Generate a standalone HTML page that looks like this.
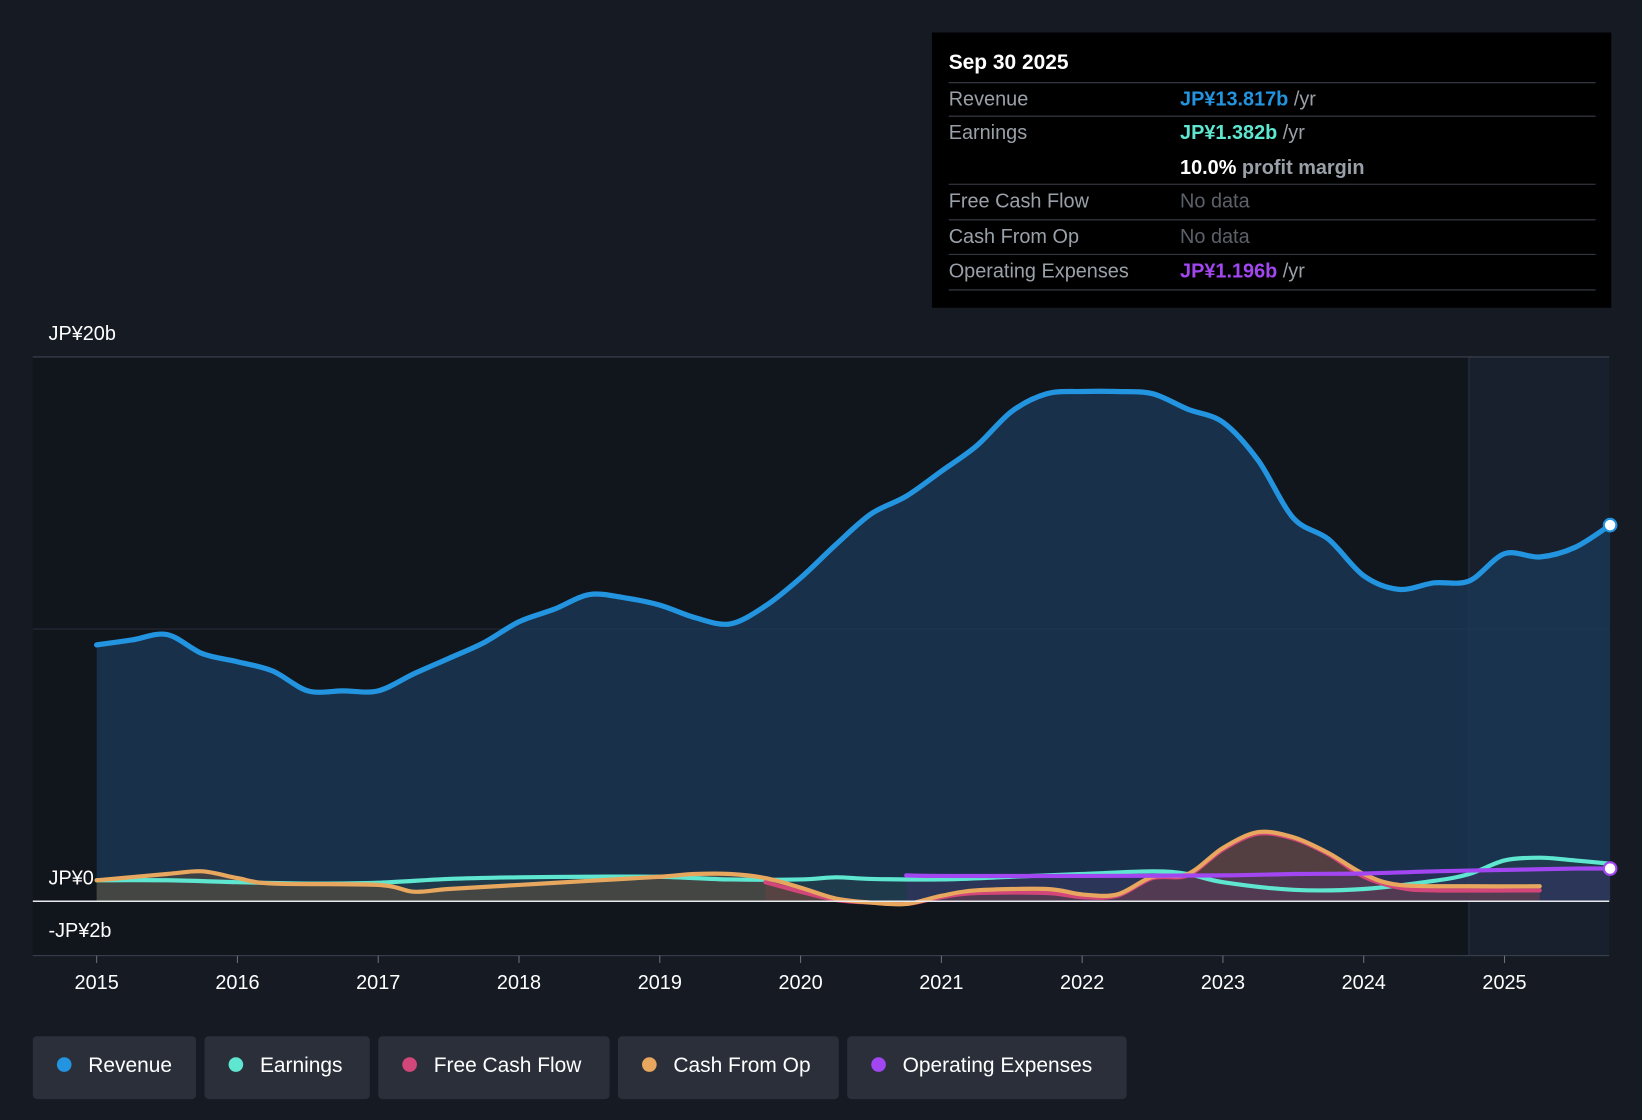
<!DOCTYPE html>
<html><head><meta charset="utf-8"><style>
html,body{margin:0;padding:0;background:#151a23;width:1642px;height:1120px;overflow:hidden}
svg{display:block;font-family:"Liberation Sans",Roboto,sans-serif}
</style></head><body>
<svg id="chart" width="1642" height="1120" viewBox="0 0 1568 1070" xmlns="http://www.w3.org/2000/svg">
<rect width="1568" height="1070" fill="#151a23"/>
<rect x="31" y="341" width="1372" height="572" fill="#11151c"/>
<rect x="1403" y="341" width="134" height="572" fill="#17202c"/>
<line x1="1403" y1="341" x2="1403" y2="913" stroke="#2a3342" stroke-width="1"/>
<g id="grid"></g>
<g id="areas"></g>
<g id="lines"></g>
<g id="axes"></g>
<g>
<rect x="890" y="31" width="649" height="263" fill="#000"/>
<text x="906" y="66" fill="#fff" font-size="20" font-weight="bold">Sep 30 2025</text>
<line x1="906" y1="79" x2="1524" y2="79" stroke="#3a3f48"/>
<text x="906" y="101" fill="#9aa0a8" font-size="19">Revenue</text>
<text x="1127" y="101" font-size="19" font-weight="bold" fill="#2394df">JP¥13.817b <tspan fill="#9aa0a8" font-weight="normal">/yr</tspan></text>
<line x1="906" y1="111" x2="1524" y2="111" stroke="#3a3f48"/>
<text x="906" y="133" fill="#9aa0a8" font-size="19">Earnings</text>
<text x="1127" y="133" font-size="19" font-weight="bold" fill="#5ee6d0">JP¥1.382b <tspan fill="#9aa0a8" font-weight="normal">/yr</tspan></text>
<text x="1127" y="166" font-size="19" font-weight="bold" fill="#fff">10.0% <tspan fill="#9aa0a8">profit margin</tspan></text>
<line x1="906" y1="176" x2="1524" y2="176" stroke="#3a3f48"/>
<text x="906" y="198" fill="#9aa0a8" font-size="19">Free Cash Flow</text>
<text x="1127" y="198" fill="#5c6068" font-size="19">No data</text>
<line x1="906" y1="210" x2="1524" y2="210" stroke="#3a3f48"/>
<text x="906" y="232" fill="#9aa0a8" font-size="19">Cash From Op</text>
<text x="1127" y="232" fill="#5c6068" font-size="19">No data</text>
<line x1="906" y1="243" x2="1524" y2="243" stroke="#3a3f48"/>
<text x="906" y="265" fill="#9aa0a8" font-size="19">Operating Expenses</text>
<text x="1127" y="265" font-size="19" font-weight="bold" fill="#a146f0">JP¥1.196b <tspan fill="#9aa0a8" font-weight="normal">/yr</tspan></text>
<line x1="906" y1="277" x2="1524" y2="277" stroke="#3a3f48"/>
</g>
<g id="legend"></g>
</svg>
<script>
const revX=[2015,2015.25,2015.5,2015.75,2016,2016.25,2016.5,2016.75,2017,2017.25,2017.5,2017.75,2018,2018.25,2018.5,2018.75,2019,2019.25,2019.5,2019.75,2020,2020.25,2020.5,2020.75,2021,2021.25,2021.5,2021.75,2022,2022.25,2022.5,2022.75,2023,2023.25,2023.5,2023.75,2024,2024.25,2024.5,2024.75,2025,2025.25,2025.5,2025.75];
const revenue=[9.42,9.6,9.8,9.1,8.8,8.46,7.73,7.73,7.73,8.35,8.92,9.5,10.27,10.73,11.27,11.15,10.88,10.42,10.19,10.85,11.88,13.1,14.23,14.88,15.8,16.73,18,18.65,18.73,18.73,18.65,18.08,17.6,16.2,14.08,13.3,11.96,11.46,11.7,11.77,12.77,12.65,13.0,13.82];
const earnX=[2015,2015.5,2016,2016.5,2017,2017.5,2018,2018.5,2019,2019.5,2020,2020.25,2020.5,2021,2021.5,2022,2022.5,2022.75,2023,2023.5,2024,2024.5,2024.75,2025,2025.25,2025.5,2025.75];
const earnings=[0.77,0.77,0.7,0.65,0.68,0.82,0.88,0.9,0.9,0.8,0.8,0.88,0.82,0.8,0.9,1.0,1.1,1.0,0.7,0.42,0.45,0.75,1.0,1.5,1.6,1.5,1.38];
const cfoX=[2015,2015.5,2015.75,2016,2016.25,2017,2017.25,2017.5,2018,2018.5,2019,2019.25,2019.5,2019.75,2020,2020.25,2020.5,2020.75,2021,2021.25,2021.75,2022,2022.25,2022.5,2022.75,2023,2023.25,2023.5,2023.75,2024,2024.25,2024.75,2025.25];
const cashFromOp=[0.77,1.0,1.1,0.85,0.65,0.6,0.35,0.45,0.6,0.75,0.9,1.0,1.0,0.85,0.5,0.1,-0.05,-0.1,0.2,0.4,0.45,0.25,0.25,0.9,1.0,1.96,2.54,2.35,1.77,1.0,0.6,0.55,0.55];
const fcfX=[2019.75,2020,2020.25,2020.5,2020.75,2021,2021.25,2021.75,2022,2022.25,2022.5,2022.75,2023,2023.25,2023.5,2023.75,2024,2024.25,2024.5,2025.25];
const fcf=[0.7,0.35,0.05,-0.05,-0.1,0.15,0.3,0.3,0.15,0.2,0.85,0.95,1.9,2.48,2.3,1.72,0.9,0.5,0.4,0.4];
const opexX=[2020.75,2021,2022,2023,2023.5,2024,2024.5,2025,2025.5,2025.75];
const opex=[0.95,0.93,0.93,0.95,1.0,1.02,1.1,1.15,1.2,1.2];
const yTicks=[20,10,0,-2];
const yTickLabels=["JP¥20b","","JP¥0","-JP¥2b"];
const years=[2015,2016,2017,2018,2019,2020,2021,2022,2023,2024,2025];
const legendNames=["Revenue","Earnings","Free Cash Flow","Cash From Op","Operating Expenses"];
const legendColors=["#2394df","#5ee6d0","#d2467a","#e8a75e","#a146f0"];

const NS="http://www.w3.org/2000/svg";
const xS=v=>92+(v-2015)*134.5;
const yS=v=>861-v*26;
function mk(tag,attrs,parent){const e=document.createElementNS(NS,tag);for(const k in attrs)e.setAttribute(k,attrs[k]);parent.appendChild(e);return e;}
function pathD(xs,ys){
  const p=xs.map((x,i)=>[xS(x),yS(ys[i])]);
  let d="M"+p[0][0]+","+p[0][1];
  for(let i=0;i<p.length-1;i++){
    const p0=p[i-1]||p[i],p1=p[i],p2=p[i+1],p3=p[i+2]||p2;
    const t=0.16;
    const c1=[p1[0]+(p2[0]-p0[0])*t,p1[1]+(p2[1]-p0[1])*t];
    const c2=[p2[0]-(p3[0]-p1[0])*t,p2[1]-(p3[1]-p1[1])*t];
    d+=` C${c1[0]},${c1[1]} ${c2[0]},${c2[1]} ${p2[0]},${p2[1]}`;
  }
  return d;
}
const grid=document.getElementById('grid'),areas=document.getElementById('areas'),lines=document.getElementById('lines'),axes=document.getElementById('axes');
yTicks.forEach((v,i)=>{
  if(v===20||v===10){const l=mk('line',{x1:31,x2:1537,y1:yS(v),y2:yS(v),stroke:v===20?'#3c4350':'#252c38','stroke-width':1},grid);
  
  }
  if(yTickLabels[i]){const t=mk('text',{x:46,y:v===-2?yS(v)-18:yS(v)-16,fill:'#fff','font-size':19},axes);t.textContent=yTickLabels[i];
  
  }
});
const zl=mk('line',{x1:31,x2:1537,y1:yS(0),y2:yS(0),stroke:'#e8eaee','stroke-width':1.5},axes);


const bl=mk('line',{x1:31,x2:1537,y1:913,y2:913,stroke:'#3c4350','stroke-width':1},axes);


years.forEach(y=>{
  mk('line',{x1:xS(y),x2:xS(y),y1:913,y2:920,stroke:'#6a717c'},axes);
  const t=mk('text',{x:xS(y),y:945,fill:'#fff','font-size':19,'text-anchor':'middle'},axes);t.textContent=y;
  
  
});
function series(name,xs,ys,color,fill,fillOp,w){
  const d=pathD(xs,ys);
  const a=mk('path',{d:d+` L${xS(xs[xs.length-1])},${yS(0)} L${xS(xs[0])},${yS(0)} Z`,fill:fill,'fill-opacity':fillOp},areas);
  
  
  const l=mk('path',{d:d,fill:'none',stroke:color,'stroke-width':w,'stroke-linecap':'round'},lines);
  
  
}
series('revenue',revX,revenue,'#2394df','#1b3a5a',0.75,5);
series('earnings',earnX,earnings,'#5ee6d0','#2a4a4a',0.4,4);
series('free-cash-flow',fcfX,fcf,'#d2467a','#7a2a48',0.35,4);
series('cash-from-op',cfoX,cashFromOp,'#e8a75e','#7a5a3a',0.4,4);
series('operating-expenses',opexX,opex,'#a146f0','#4a2a78',0.3,4);
const d1=mk('circle',{cx:xS(2025.75),cy:yS(revenue[revenue.length-1]),r:6,fill:'#fff',stroke:'#2394df','stroke-width':2},lines);


const d2=mk('circle',{cx:xS(2025.75),cy:yS(opex[opex.length-1]),r:6,fill:'#fff',stroke:'#a146f0','stroke-width':2},lines);


const lg=document.getElementById('legend');
const widths=[156,158,221,211,267];let lx=31;
legendNames.forEach((n,i)=>{
  const g=mk('g',{},lg);
  
  
  mk('rect',{x:lx,y:990,width:widths[i],height:60,rx:4,fill:'#2a2f3a'},g);
  mk('circle',{cx:lx+30,cy:1017,r:7,fill:legendColors[i]},g);
  const t=mk('text',{x:lx+53,y:1024,fill:'#fff','font-size':20},g);t.textContent=n;
  lx+=widths[i]+8;
});
</script>
</body></html>
